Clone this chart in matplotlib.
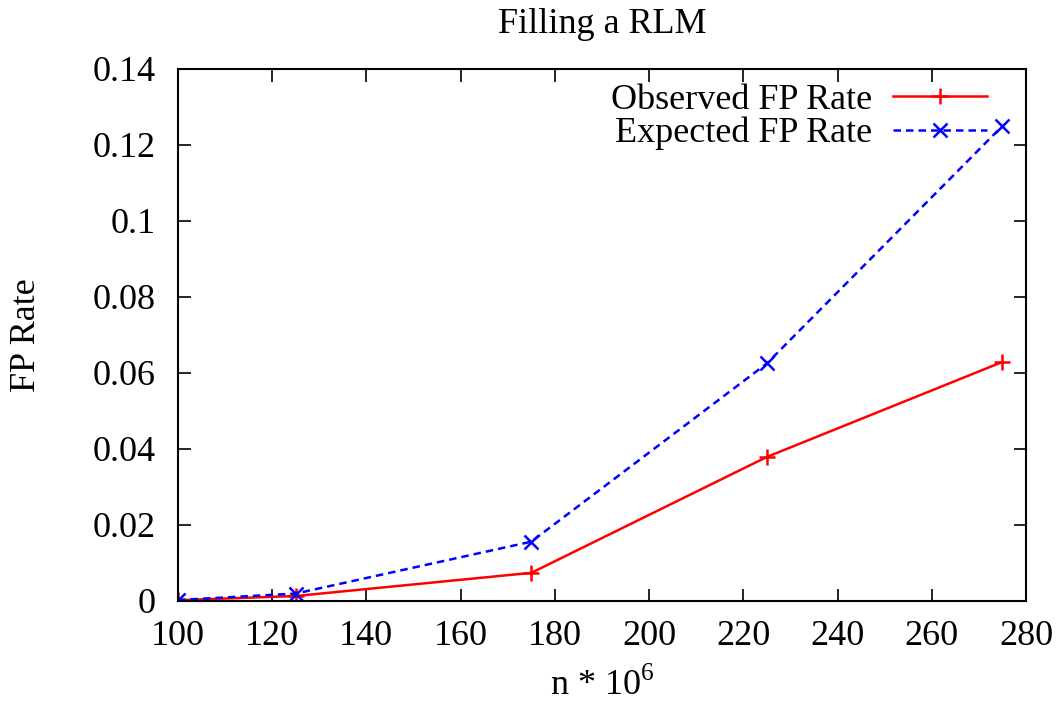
import matplotlib
matplotlib.use("Agg")
from matplotlib import pyplot as plt

n = [100, 125, 175, 225, 275]
observed = [0.0002, 0.0013, 0.0074, 0.0379, 0.0629]
expected = [0.000244, 0.00195, 0.0156, 0.0625, 0.125]

plt.rcParams['font.family'] = ['Liberation Serif', 'DejaVu Serif']
plt.rcParams['mathtext.fontset'] = 'custom'
plt.rcParams['mathtext.rm'] = 'Liberation Serif'

fig = plt.figure(figsize=(10.62, 7.07), dpi=100)
ax = fig.add_axes([0.1676, 0.150, 0.7985, 0.7525])

ax.plot(n, observed, color='red', linestyle='-', linewidth=1.8,
        marker='+', markersize=11, markeredgewidth=1.8, label='Observed FP Rate')
ax.plot(n, expected, color='blue', linestyle=(0, (3, 2)), linewidth=1.8,
        marker='x', markersize=10, markeredgewidth=1.8, label='Expected FP Rate')

ax.axis([100, 280, 0, 0.14])
ax.set_xticks([100 + 20 * i for i in range(10)])
ax.set_yticks([0.02 * i for i in range(8)])
ax.set_yticklabels(['0', '0.02', '0.04', '0.06', '0.08', '0.1', '0.12', '0.14'])
ax.tick_params(direction='in', length=9, width=1.2, top=True, right=True,
               labelsize=26)
ax.tick_params(axis='x', pad=14)
ax.tick_params(axis='y', pad=16)
for s in ax.spines.values():
    s.set_linewidth(1.5)

ax.set_title('Filling a RLM', fontsize=26, pad=26)
ax.set_xlabel(r'n * 10$^{6}$', fontsize=26, labelpad=10)
ax.set_ylabel('FP Rate', fontsize=26, labelpad=36)

ax.legend(loc='upper right', frameon=False, markerfirst=False, fontsize=26,
          handlelength=2.6, handletextpad=0.6, borderaxespad=0.4,
          borderpad=0.2, labelspacing=0.0, bbox_to_anchor=(0.98, 1.013))

plt.savefig('out.png', dpi=100)
